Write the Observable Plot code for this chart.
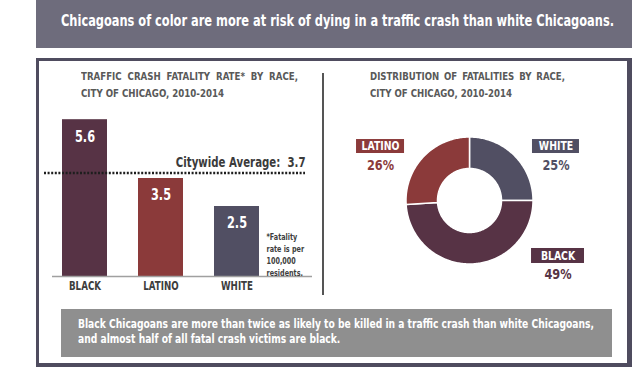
<!DOCTYPE html>
<html>
<head>
<meta charset="utf-8">
<script src="https://cdn.jsdelivr.net/npm/d3@7"></script>
<script src="https://cdn.jsdelivr.net/npm/@observablehq/plot@0.6"></script>
<style>
  html, body { margin: 0; padding: 0; background: #fff; }
  #root { position: relative; width: 640px; height: 372px; overflow: hidden; background: #fff;
    font-family: "Liberation Sans Narrow", "DejaVu Sans Condensed", "Roboto Condensed", "Liberation Sans", sans-serif; }
  .abs { position: absolute; }
  .fit { white-space: nowrap; display: inline-block; transform-origin: 0 50%; }
  #header { left: 36px; top: 0; width: 596px; height: 48px; background: #6e6c7c; }
  #headerText { left: 61px; top: 13px; color: #fff; font-weight: bold; font-size: 15px; line-height: 17px; }
  #frame { left: 36px; top: 58px; width: 596px; height: 309px; box-sizing: border-box;
    border-style: solid; border-color: #4f4c5f; border-width: 3px 5px 4px 3px; }
  .title { color: #595959; font-weight: bold; font-size: 11px; line-height: 12px; }
  #divider { left: 322px; top: 73px; width: 1.5px; height: 222px; background: #555; }
  #capbox { left: 61px; top: 309px; width: 551px; height: 48px; background: #8f8f8f; }
  .cap { color: #fff; font-weight: bold; font-size: 12px; line-height: 14px; }
</style>
</head>
<body>
<div id="root">
  <div id="header" class="abs"></div>
  <span id="headerText" class="abs fit">Chicagoans of color are more at risk of dying in a traffic crash than white Chicagoans.</span>
  <div id="frame" class="abs"></div>

  <span id="t1a" class="abs fit title" style="left:81px;top:71px">TRAFFIC CRASH FATALITY RATE* BY RACE,</span>
  <span id="t1b" class="abs fit title" style="left:81px;top:88px">CITY OF CHICAGO, 2010-2014</span>
  <span id="t2a" class="abs fit title" style="left:370px;top:71px">DISTRIBUTION OF FATALITIES BY RACE,</span>
  <span id="t2b" class="abs fit title" style="left:370px;top:88px">CITY OF CHICAGO, 2010-2014</span>

  <div id="bars" class="abs" style="left:44px;top:100px"></div>
  <div id="divider" class="abs"></div>
  <div id="donut" class="abs" style="left:340px;top:120px"></div>

  <div id="capbox" class="abs"></div>
  <span id="cap1" class="abs fit cap" style="left:78px;top:317px">Black Chicagoans are more than twice as likely to be killed in a traffic crash than white Chicagoans,</span>
  <span id="cap2" class="abs fit cap" style="left:78px;top:332px">and almost half of all fatal crash victims are black.</span>
</div>
<script>
// ---- data ----
const races = ["BLACK", "LATINO", "WHITE"];
const rates = [5.6, 3.5, 2.5];
const citywideAverage = 3.7;
const raceColors = ["#573345", "#8b3a3a", "#514f63"];
const shareRaces = ["WHITE", "BLACK", "LATINO"]; // clockwise from 12 o'clock
const shares = [25, 49, 26];
const footnote = "*Fatality\nrate is per\n100,000\nresidents.";

const FONT = '"Liberation Sans Narrow", "DejaVu Sans Condensed", "Roboto Condensed", "Liberation Sans", sans-serif';

// ---- bar chart ----
const barData = races.map((r, i) => ({race: r, rate: rates[i]}));
const avgData = [{label: `Citywide Average:  ${citywideAverage}`, value: citywideAverage}];
const noteData = [{race: "WHITE", base: 0, note: footnote}];

const bars = Plot.plot({
  width: 268, height: 200,
  marginTop: 0, marginRight: 0, marginBottom: 24, marginLeft: 0,
  x: {domain: races, range: [18, 215], paddingInner: 31 / 76, paddingOuter: 0},
  y: {domain: [0, 6], range: [176, 8], axis: null},
  color: {domain: races, range: raceColors},
  style: {fontFamily: FONT, color: "#3d3d3d", background: "transparent", overflow: "visible"},
  marks: [
    Plot.barY(barData, {x: "race", y: "rate", fill: "race"}),
    Plot.ruleY([0], {stroke: "#a0a0a0", strokeWidth: 1.5, insetLeft: 8}),
    Plot.ruleY([citywideAverage], {stroke: "#1e1e1e", strokeWidth: 2.5, strokeDasharray: "2,1.6", insetRight: 7}),
    Plot.text(avgData, {y: "value", text: "label", frameAnchor: "right", textAnchor: "end", dx: -7, dy: -10,
      fontSize: 13.5, fontWeight: "bold", fill: "#3b3b3b"}),
    Plot.text(barData, {x: "race", y: "rate", text: d => d.rate.toFixed(1), dy: 17, fill: "white",
      fontSize: 15, fontWeight: "bold"}),
    Plot.text(noteData, {x: "race", y: "base", text: "note", textAnchor: "start", lineAnchor: "bottom",
      dx: 29.5, dy: -1, fontSize: 8.5, fontWeight: "bold", lineHeight: 1.38, fill: "#3d3d3d"}),
    Plot.axisX({tickSize: 0, tickPadding: 5, fontSize: 11.5, fontWeight: "bold", label: null})
  ]
});
document.getElementById("bars").append(bars);

// ---- donut ----
const innerRatio = 32 / 63.5;
const arcData = [];
let acc = 0;
shareRaces.forEach((r, i) => {
  const a0 = acc / 100 * 2 * Math.PI;
  acc += shares[i];
  const a1 = acc / 100 * 2 * Math.PI;
  const n = Math.max(2, Math.ceil((a1 - a0) / (Math.PI / 180)));
  for (let k = 0; k <= n; k++) {
    const a = a0 + (a1 - a0) * k / n;
    arcData.push({race: r, xo: Math.sin(a), yo: Math.cos(a), xi: innerRatio * Math.sin(a), yi: innerRatio * Math.cos(a)});
  }
});

// label placement (layout, in donut-radius units)
const labelLayout = {
  LATINO: {ux: -1.409, uy: 0.858, hw: 0.378, hh: 0.11},
  WHITE: {ux: 1.354, uy: 0.858, hw: 0.37, hh: 0.11},
  BLACK: {ux: 1.386, uy: -0.866, hw: 0.417, hh: 0.118}
};
const labelData = shareRaces.map((r, i) => ({race: r, share: shares[i], ...labelLayout[r]}));

const donut = Plot.plot({
  width: 270, height: 170, margin: 0,
  x: {domain: [-1, 1], range: [66, 193], axis: null},
  y: {domain: [-1, 1], range: [144, 17], axis: null},
  color: {domain: races, range: raceColors},
  style: {fontFamily: FONT, background: "transparent", overflow: "visible"},
  marks: [
    Plot.area(arcData, {x1: "xo", y1: "yo", x2: "xi", y2: "yi", z: "race", fill: "race", stroke: "white", strokeWidth: 1.5}),
    Plot.rect(labelData, {x1: d => d.ux - d.hw, x2: d => d.ux + d.hw, y1: d => d.uy - d.hh, y2: d => d.uy + d.hh, fill: "race"}),
    Plot.text(labelData, {x: "ux", y: "uy", text: "race", fill: "white", fontSize: 11.5, fontWeight: "bold"}),
    Plot.text(labelData, {x: "ux", y: "uy", text: d => d.share + "%", fill: "race", dy: 19, fontSize: 14, fontWeight: "bold"})
  ]
});
document.getElementById("donut").append(donut);

// ---- condense glyphs like the original's condensed typeface ----
function condense(svg, factor) {
  svg.querySelectorAll("text").forEach(t => {
    const spans = t.querySelectorAll("tspan");
    const targets = spans.length ? Array.from(spans) : [t];
    targets.forEach(el => {
      el.removeAttribute("textLength");
      el.removeAttribute("lengthAdjust");
      const len = el.getComputedTextLength();
      if (len > 0) {
        el.setAttribute("textLength", (len * factor).toFixed(2));
        el.setAttribute("lengthAdjust", "spacingAndGlyphs");
      }
    });
  });
}

// ---- fit condensed text widths ----
function natural(el) { el.style.transform = "none"; return el.getBoundingClientRect().width; }
function fitAll() {
  const h = document.getElementById("headerText");
  h.style.transform = `scaleX(${553 / natural(h)})`;
  const c1 = document.getElementById("cap1"), c2 = document.getElementById("cap2");
  const sc = 516 / natural(c1);
  c1.style.transform = c2.style.transform = `scaleX(${sc})`;
  [["t1a", "t1b", 217, 143], ["t2a", "t2b", 195, 142]].forEach(([a, b, wa, wb]) => {
    const ea = document.getElementById(a), eb = document.getElementById(b);
    const s = wb / natural(eb);
    eb.style.transform = `scaleX(${s})`;
    ea.style.wordSpacing = "0px";
    const na = natural(ea);
    const words = ea.textContent.trim().split(/\s+/).length;
    const extra = (wa / s - na) / (words - 1);
    if (extra > 0) ea.style.wordSpacing = extra + "px";
    ea.style.transform = `scaleX(${extra > 0 ? s : wa / na})`;
  });
  condense(bars, 0.84);
  condense(donut, 0.9);
}
fitAll();
if (document.fonts && document.fonts.ready) document.fonts.ready.then(fitAll);
</script>
</body>
</html>
